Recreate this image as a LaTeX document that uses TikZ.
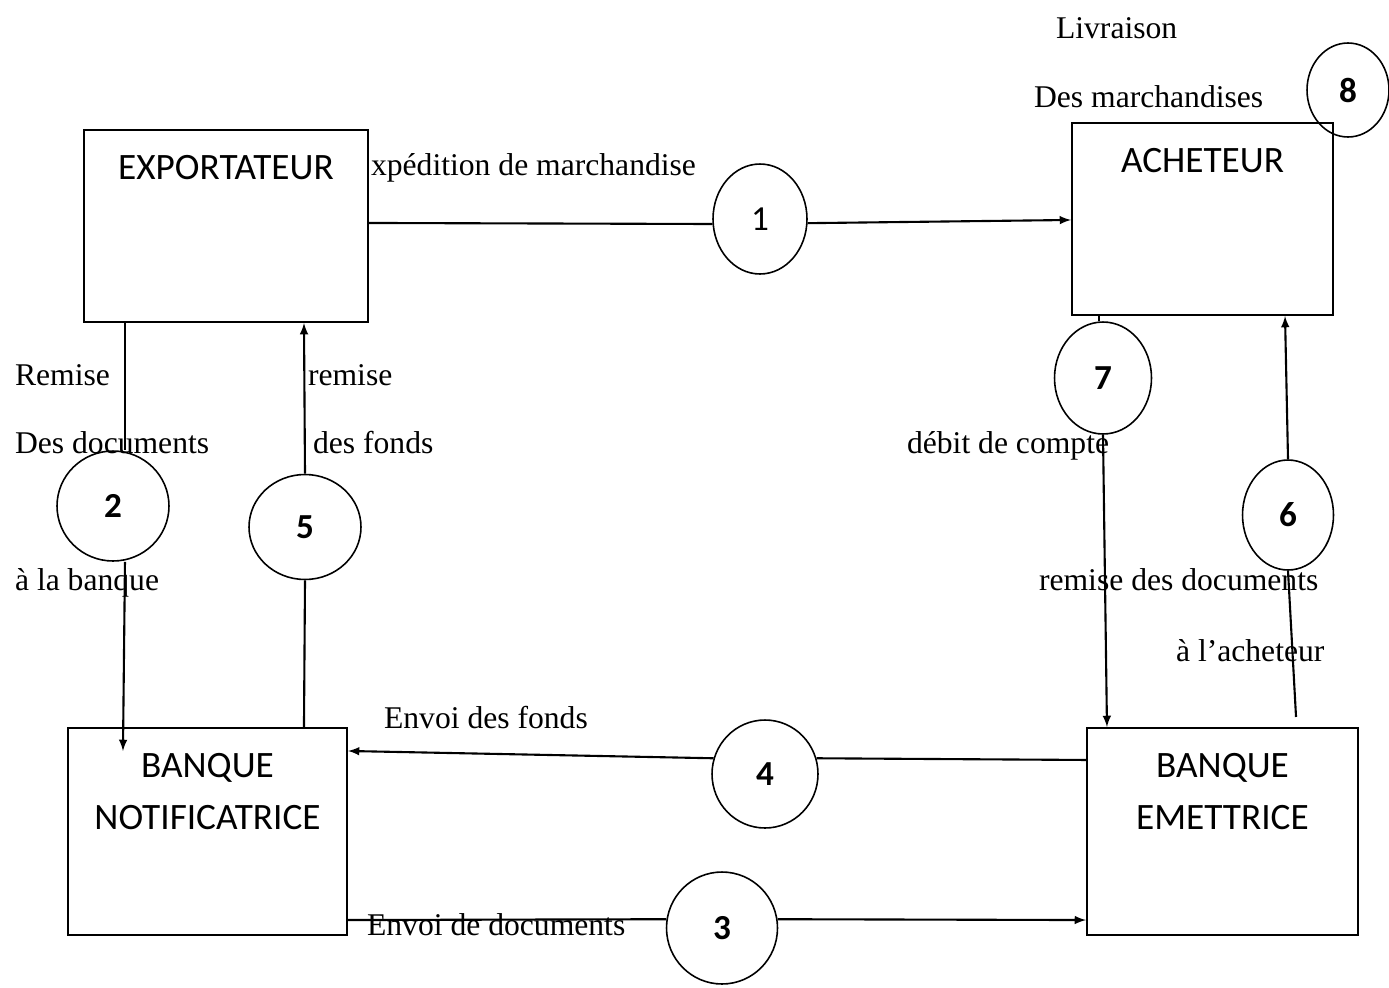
\documentclass[tikz,border=0pt]{standalone}
\usepackage{fontspec}
\setmainfont{Liberation Serif}
\newfontfamily\calibri{Carlito}
\usetikzlibrary{positioning,shapes,arrows,calc}

\begin{document}
\begin{tikzpicture}
  [x=0.02cm,y=-0.02cm,line width=1.2pt,
   boite/.style={draw,rectangle,inner sep=0pt},
   titre/.style={anchor=north,yshift=-0.5cm,inner sep=0pt,align=center,font=\calibri\fontsize{21.2}{30}\selectfont},
   etape/.style={draw,ellipse,inner sep=0pt,line width=0.9pt,font=\calibri\bfseries\fontsize{20}{22}\selectfont},
   txt/.style={anchor=base west,inner sep=0pt,font=\fontsize{18}{20}\selectfont},
   fleche/.style={-latex}]
  \useasboundingbox (0,0) rectangle (1389,987);

  % les acteurs
  \node[boite,minimum width=5.68cm,minimum height=3.84cm,label={[titre]north:EXPORTATEUR}] (expo) at (226,226) {};
  \node[boite,minimum width=5.22cm,minimum height=3.84cm,label={[titre]north:ACHETEUR}] (ach) at (1202.5,219) {};
  \node[boite,minimum width=5.58cm,minimum height=4.14cm,label={[titre]north:BANQUE\\NOTIFICATRICE}] (bnot) at (207.5,831.5) {};
  \node[boite,minimum width=5.42cm,minimum height=4.14cm,label={[titre]north:BANQUE\\EMETTRICE}] (bem) at (1222.5,831.5) {};

  % les etapes
  \node[etape,minimum width=1.88cm,minimum height=2.2cm,font=\calibri\fontsize{20}{22}\selectfont] (n1) at (760,219) {1};
  \node[etape,minimum width=2.24cm,minimum height=2.2cm] (n2) at (113,506) {2};
  \node[etape,minimum width=2.22cm,minimum height=2.24cm] (n3) at (722,928) {3};
  \node[etape,minimum width=2.12cm,minimum height=2.16cm] (n4) at (765,774) {4};
  \node[etape,minimum width=2.24cm,minimum height=2.1cm] (n5) at (305,527) {5};
  \node[etape,minimum width=1.82cm,minimum height=2.2cm] (n6) at (1288,515) {6};
  \node[etape,minimum width=1.94cm,minimum height=2.24cm] (n7) at (1103,378) {7};
  \node[etape,minimum width=1.64cm,minimum height=1.88cm] (n8) at (1348,90) {8};

  % les libelles
  \node[txt] (t1a) at (1055,38) {Livraison};
  \node[txt] (t1b) at (1033,107) {Des marchandises};
  \node[txt] (t2) at (370,175) {xpédition de marchandise};
  \node[txt] (t3a) at (14,385) {Remise};
  \node[txt] (t3b) at (14,453) {Des documents};
  \node[txt] (t3c) at (14,590) {à la banque};
  \node[txt] (t4a) at (307,385) {remise};
  \node[txt] (t4b) at (312,453) {des fonds};
  \node[txt] (t5) at (906,453) {débit de compte};
  \node[txt] (t6a) at (1038,590) {remise des documents};
  \node[txt] (t6b) at (1175,661) {à l’acheteur};
  \node[txt] (t7) at (383,728) {Envoi des fonds};
  \node[txt] (t8) at (366,935) {Envoi de documents};

  % points d'attache sur les cadres
  \coordinate (c1a) at ($(expo.north east)+(0,94)$);
  \coordinate (c1b) at ($(ach.north west)+(0,98)$);
  \coordinate (c2a) at ($(expo.south west)+(42,0)$);
  \coordinate (c2b) at (c2a |- n2.north);
  \coordinate (c2c) at (c2a |- n2.south);
  \coordinate (c2d) at ($(bnot.north west)+(56,24)$);
  \coordinate (c5a) at ($(bnot.north west)+(237,0)$);
  \coordinate (c5b) at ($(expo.south west)+(221,0)$);
  \coordinate (c7a) at ($(ach.south west)+(28,0)$);
  \coordinate (c7b) at (c7a |- n7.north);
  \coordinate (c7c) at ($(bem.north west)+(21,0)$);
  \coordinate (c6a) at ($(bem.north east)+(-63,-10)$);
  \coordinate (c6b) at ($(ach.south east)+(-49,0)$);
  \coordinate (c4a) at ($(bem.north west)+(0,33)$);
  \coordinate (c4b) at ($(bnot.north east)+(0,24)$);
  \coordinate (c3a) at ($(bnot.south east)+(0,-16)$);
  \coordinate (c3b) at ($(bem.south west)+(0,-16)$);

  \foreach \from/\to in {c1a/n1.186, c2a/c2b, c5a/n5.south, c7a/c7b, c6a/n6.south, c4a/n4.17, c3a/n3.171}
    \draw (\from) -- (\to);
  \foreach \from/\to in {n1.355/c1b, c2c/c2d, n5.north/c5b, n7.south/c7c, n6.north/c6b, n4.163/c4b, n3.9/c3b}
    \draw[fleche] (\from) -- (\to);
\end{tikzpicture}
\end{document}
